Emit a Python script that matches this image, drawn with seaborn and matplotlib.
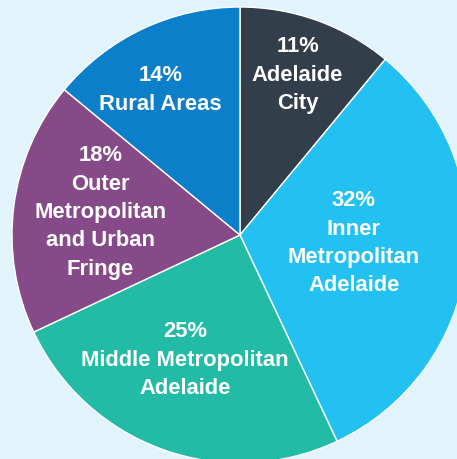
import matplotlib
matplotlib.use("Agg")
import matplotlib.pyplot as plt
import seaborn as sns
import numpy as np

categories = ["Adelaide City", "Inner\nMetropolitan\nAdelaide", "Middle Metropolitan\nAdelaide",
              "Outer\nMetropolitan\nand Urban\nFringe", "Rural Areas"]
values = [11, 32, 25, 18, 14]
colors = ["#323e4a", "#22c1f1", "#22bba6", "#874a88", "#0c7fcb"]
label_texts = ["Adelaide\nCity", "Inner\nMetropolitan\nAdelaide", "Middle Metropolitan\nAdelaide",
               "Outer\nMetropolitan\nand Urban\nFringe", "Rural Areas"]
label_dist = [0.745, 0.50, 0.60, 0.62, 0.725]
label_nudge = [0.0, 3.0, -4.0, -2.0, 3.5]

sns.set_theme(style="white")
plt.rcParams['font.family'] = ['Liberation Sans', 'DejaVu Sans']

bg = "#e1f3fb"
W, H = 457, 459
fig = plt.figure(figsize=(W / 100, H / 100), dpi=100, facecolor=bg)
cx, cy, R = 240, 235, 228
ax = fig.add_axes([(cx - R) / W, (H - cy - R) / H, 2 * R / W, 2 * R / H])
ax.set_facecolor(bg)

wedges, _ = ax.pie(values, colors=colors, startangle=90, counterclock=False, radius=1,
                   wedgeprops=dict(edgecolor="white", linewidth=1.0))
ax.set_xlim(-1, 1)
ax.set_ylim(-1, 1)
ax.set_aspect("equal")
ax.axis("off")

for w, v, txt, d, nd in zip(wedges, values, label_texts, label_dist, label_nudge):
    ang = np.deg2rad((w.theta1 + w.theta2) / 2 + nd)
    x, y = d * np.cos(ang), d * np.sin(ang)
    ax.text(x, y, f"{v}%\n{txt}", ha="center", va="center", color="white",
            fontsize=15.8, fontweight="bold", linespacing=1.46)

fig.savefig("out.png", dpi=100, facecolor=bg)
